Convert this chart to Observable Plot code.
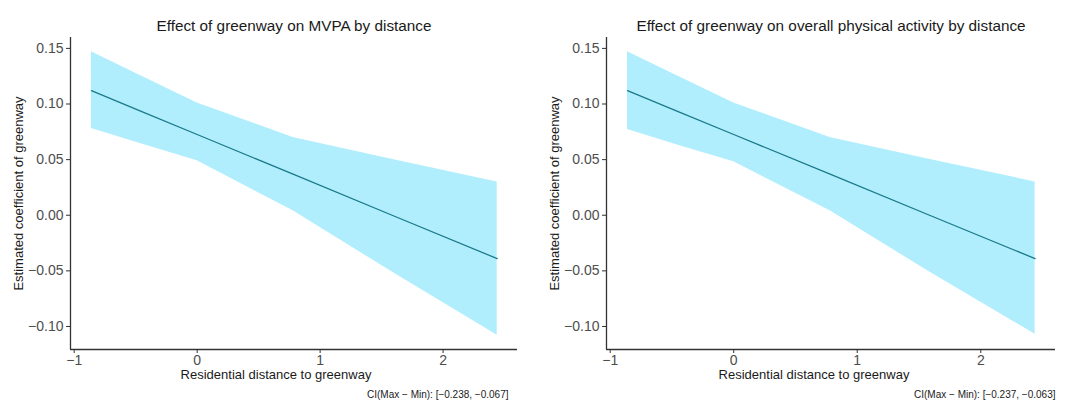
<!DOCTYPE html>
<html>
<head>
<meta charset="utf-8">
<script src="https://cdn.jsdelivr.net/npm/d3@7"></script>
<script src="https://cdn.jsdelivr.net/npm/@observablehq/plot@0.6"></script>
<style>
  html, body { margin: 0; padding: 0; background: #fff; }
  #wrap { display: flex; width: 1070px; height: 404px; }
  svg { font-family: "Liberation Sans", Arial, sans-serif; }
</style>
</head>
<body>
<div id="wrap"></div>
<script>
// ---- data ----
const distance = [-0.86, -0.45, 0, 0.78, 1.6, 2.44];

const mvpaEst   = [0.112, 0.0932, 0.0726, 0.0369, -0.0007, -0.039];
const mvpaUpper = [0.147, 0.125, 0.101, 0.070, 0.050, 0.030];
const mvpaLower = [0.078, 0.064, 0.049, 0.004, -0.052, -0.108];

const paEst   = [0.112, 0.0932, 0.0726, 0.0369, -0.0007, -0.039];
const paUpper = [0.147, 0.125, 0.101, 0.070, 0.050, 0.030];
const paLower = [0.077, 0.063, 0.048, 0.004, -0.052, -0.107];

const titles = ["Effect of greenway on MVPA by distance",
                "Effect of greenway on overall physical activity by distance"];
const ciLabels = ["CI(Max \u2212 Min): [\u22120.238, \u22120.067]",
                  "CI(Max \u2212 Min): [\u22120.237, \u22120.063]"];
const xLabel = "Residential distance to greenway";
const yLabel = "Estimated coefficient of greenway";
const xTicks = [-1, 0, 1, 2];
const yTicks = [-0.10, -0.05, 0.00, 0.05, 0.10, 0.15];

const xDomain = [-1.03, 2.605];
const yDomain = [-0.1207, 0.1598];

function panel(est, lower, upper, title, ci, opts) {
  const data = distance.map((x, i) => ({x, est: est[i], lo: lower[i], hi: upper[i]}));
  return Plot.plot({
    width: 535,
    height: 404,
    marginLeft: opts.ml,
    marginRight: opts.mr,
    marginTop: 37,
    marginBottom: 55,
    x: {domain: xDomain},
    y: {domain: yDomain},
    style: {fontFamily: '"Liberation Sans", Arial, sans-serif', background: "#fff"},
    marks: [
      Plot.areaY(data, {x: "x", y1: "lo", y2: "hi", fill: "#b1eefd", fillOpacity: 1}),
      Plot.line(data, {x: "x", y: "est", stroke: "#1a7a8a", strokeWidth: 1.3}),
      Plot.ruleX([xDomain[0]], {stroke: "#333", strokeWidth: 1.3}),
      Plot.ruleY([yDomain[0]], {stroke: "#333", strokeWidth: 1.3}),
      Plot.axisY(yTicks, {tickSize: 4, tickPadding: 3, fontSize: 14, stroke: "#333",
        fill: "#4d4d4d", tickFormat: d3.format(".2f"), label: null}),
      Plot.axisX(xTicks, {tickSize: 4, tickPadding: 2, fontSize: 14, stroke: "#333",
        fill: "#4d4d4d", tickFormat: d3.format("d"), label: null}),
      Plot.text([title], {text: d => d, frameAnchor: "top", dy: -17, fontSize: 15.3, fill: "#1a1a1a"}),
      Plot.text([xLabel], {text: d => d, frameAnchor: "bottom", dx: opts.xlDx, dy: 29, fontSize: 13, fill: "#1a1a1a"}),
      Plot.text([yLabel], {text: d => d, frameAnchor: "left", textAnchor: "middle", dx: -52, rotate: -90, fontSize: 13, fill: "#1a1a1a"}),
      Plot.text([ci], {text: d => d, frameAnchor: "bottom-right", textAnchor: "end", dx: opts.ciDx, dy: 48, fontSize: 10, fill: "#1a1a1a"})
    ]
  });
}

const wrap = document.getElementById("wrap");
wrap.appendChild(panel(mvpaEst, mvpaLower, mvpaUpper, titles[0], ciLabels[0], {ml: 70, mr: 18, xlDx: -18, ciDx: -9}));
wrap.appendChild(panel(paEst, paLower, paUpper, titles[1], ciLabels[1], {ml: 71, mr: 15, xlDx: -17, ciDx: 0}));
</script>
</body>
</html>
